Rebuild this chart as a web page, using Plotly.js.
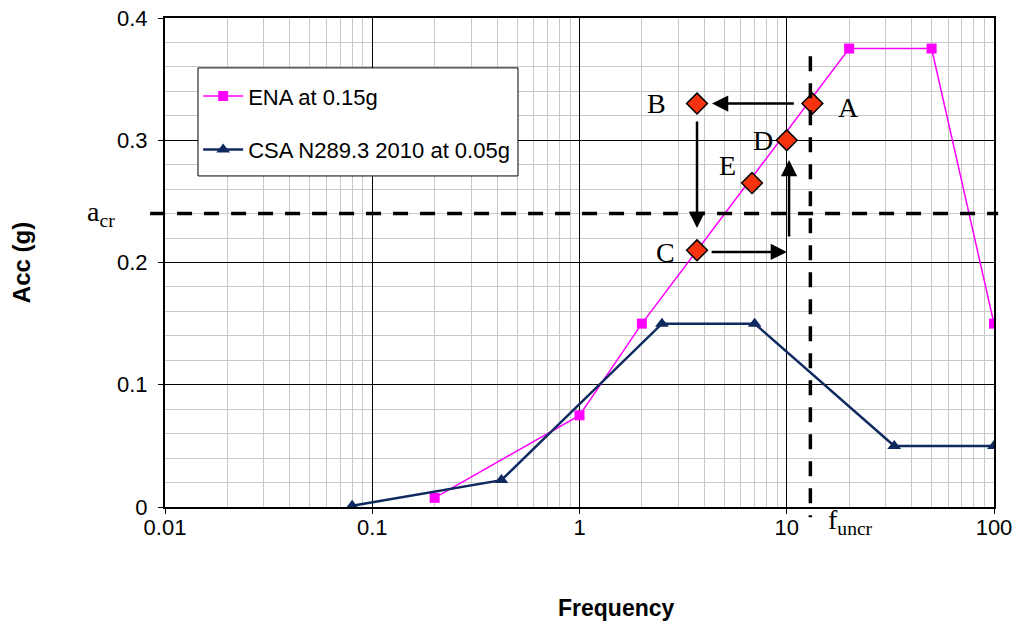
<!DOCTYPE html>
<html>
<head>
<meta charset="utf-8">
<script src="https://cdn.plot.ly/plotly-3.0.1.min.js"></script>
<style>html,body{margin:0;padding:0;background:#fff;}#chart{width:1015px;height:624px;}</style>
</head>
<body>
<div id="chart"></div>
<script>
// ENA spectrum at 0.15g
const enaFreq = [0.2, 1, 2, 20, 50, 100];
const enaAcc  = [0.0075, 0.075, 0.15, 0.375, 0.375, 0.15];
// CSA N289.3 2010 at 0.05g
const csaFreq = [0.08, 0.42, 2.5, 7, 33, 100];
const csaAcc  = [0.001, 0.022, 0.15, 0.15, 0.05, 0.05];
// Iteration points A..E
const ptLabels = ['A', 'B', 'C', 'D', 'E'];
const ptFreq   = [13.3, 3.69, 3.69, 10, 6.8];
const ptAcc    = [0.33, 0.33, 0.21, 0.30, 0.265];
// Critical values
const aCr = 0.24;
const fUncr = 13;
// Arrows: [tailFreq, tailAcc] -> [tipFreq, tipAcc]
const arrowTails = [[11.0, 0.33], [3.69, 0.3166], [4.27, 0.2086], [10.26, 0.220]];
const arrowTips  = [[4.36, 0.33], [3.69, 0.2282], [10.02, 0.2086], [10.26, 0.2838]];
// Label anchor positions for A..E text
const labelFreq = [19.8, 2.34, 2.61, 7.67, 5.15];
const labelAcc  = [0.327, 0.33, 0.208, 0.300, 0.279];
// Tick labels
const xTickVals = [0.01, 0.1, 1, 10, 100];
const xTickText = ['0.01', '0.1', '1', '10', '100'];
const yTickVals = [0, 0.1, 0.2, 0.3, 0.4];
const yTickText = ['0', '0.1', '0.2', '0.3', '0.4'];

const lg = v => Math.log10(v);

const traces = [
  {x: enaFreq, y: enaAcc, name: 'ENA at 0.15g', mode: 'lines+markers', legendgroup: 'a',
   line: {color: '#FF00FF', width: 1.5}, marker: {symbol: 'square', size: 10, color: '#FF00FF'}},
  {x: csaFreq, y: csaAcc, name: 'CSA N289.3 2010 at 0.05g', mode: 'lines+markers', legendgroup: 'b',
   line: {color: '#0F2A5F', width: 2.5}, marker: {symbol: 'triangle-up', size: 12, color: '#0F2A5F'}},
  {x: ptFreq, y: ptAcc, mode: 'markers', showlegend: false, hoverinfo: 'skip',
   marker: {symbol: 'diamond', size: 16, color: '#F5330F', line: {color: '#000', width: 1.5}}}
];

const serif = {family: 'Liberation Serif, Times New Roman, serif', size: 28, color: '#000'};
const sans = 'Liberation Sans, Arial, sans-serif';
const annotations = [];
ptLabels.forEach((t, i) => annotations.push({
  x: lg(labelFreq[i]), y: labelAcc[i], xref: 'x', yref: 'y', text: t, showarrow: false, font: serif
}));
arrowTails.forEach((tail, i) => annotations.push({
  x: lg(arrowTips[i][0]), y: arrowTips[i][1], ax: lg(tail[0]), ay: tail[1],
  xref: 'x', yref: 'y', axref: 'x', ayref: 'y', text: '', showarrow: true,
  arrowhead: 2, arrowsize: 1.3, arrowwidth: 2.5, arrowcolor: '#000', standoff: 0, startstandoff: 0
}));
annotations.push({x: -0.097, y: aCr, xref: 'paper', yref: 'y', text: 'a<sub>cr</sub>', showarrow: false, font: serif});
annotations.push({x: lg(20.2), y: -0.069, xref: 'x', yref: 'paper', text: 'f<sub>uncr</sub>', showarrow: false, font: serif});
annotations.push({x: 0.545, y: -0.2065, xref: 'paper', yref: 'paper', yanchor: 'middle', text: '<b>Frequency</b>',
  showarrow: false, font: {family: sans, size: 23, color: '#000'}});

const shapes = [
  // legend frame
  {type: 'rect', xref: 'paper', yref: 'paper', x0: 0.0398, x1: 0.4258, y0: 0.898, y1: 0.677,
   line: {color: '#000', width: 1}, fillcolor: '#fff', layer: 'above'},
  {type: 'line', xref: 'paper', yref: 'y', x0: -0.018, x1: 1.005, y0: aCr, y1: aCr,
   line: {color: '#000', width: 3.5, dash: '15px,12px'}},
  {type: 'line', xref: 'x', yref: 'paper', x0: fUncr, x1: fUncr, y0: 0.922, y1: -0.021,
   line: {color: '#000', width: 3.5, dash: '15px,12px'}}
];

const layout = {
  width: 1015, height: 624,
  margin: {l: 165, r: 21, t: 18, b: 117},
  paper_bgcolor: '#fff', plot_bgcolor: '#fff',
  font: {family: sans, size: 22, color: '#000'},
  showlegend: true,
  legend: {x: 0.04, y: 0.883, xanchor: 'left', yanchor: 'top', bgcolor: 'rgba(0,0,0,0)',
           borderwidth: 0, traceorder: 'grouped', tracegroupgap: 22,
           itemwidth: 40,
           font: {family: sans, size: 22, color: '#000'}},
  xaxis: {type: 'log', range: [-2, 2], tickvals: xTickVals, ticktext: xTickText,
          showgrid: true, gridcolor: '#000', gridwidth: 1,
          minor: {dtick: 'D1', showgrid: true, gridcolor: '#C8C8C8', gridwidth: 1, ticks: ''},
          showline: true, linecolor: '#000', linewidth: 2, mirror: true,
          ticks: 'outside', ticklen: 5, tickcolor: '#000', zeroline: false,
          ticklabelstandoff: -5,
          tickfont: {family: sans, size: 22}},
  yaxis: {range: [0, 0.4], tickvals: yTickVals, ticktext: yTickText,
          showgrid: true, gridcolor: '#000', gridwidth: 1,
          minor: {dtick: 0.02, showgrid: true, gridcolor: '#C8C8C8', gridwidth: 1, ticks: ''},
          showline: true, linecolor: '#000', linewidth: 2, mirror: true,
          ticks: 'outside', ticklen: 5, tickcolor: '#000', zeroline: false,
          ticklabelstandoff: 6,
          tickfont: {family: sans, size: 22},
          title: {text: '<b>Acc (g)</b>', font: {family: sans, size: 24}, standoff: 80}},
  shapes: shapes,
  annotations: annotations
};

Plotly.newPlot('chart', traces, layout, {displayModeBar: false, staticPlot: true});
</script>
</body>
</html>
